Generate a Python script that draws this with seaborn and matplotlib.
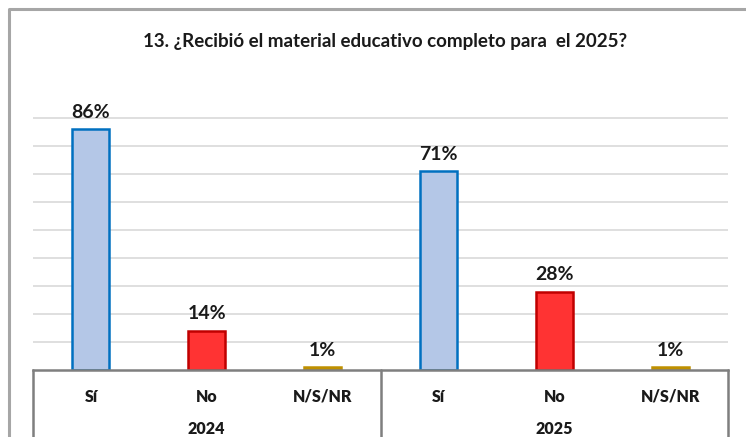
import pandas as pd
import matplotlib.pyplot as plt
import seaborn as sns
from matplotlib.lines import Line2D

# Data
years = ['2024', '2025']
answers = ['Sí', 'No', 'N/S/NR']
values_2024 = [86, 14, 1]
values_2025 = [71, 28, 1]

fill_colors = {'Sí': '#B4C7E7', 'No': '#FF3333', 'N/S/NR': '#BF9000'}
edge_colors = {'Sí': '#0070C0', 'No': '#C00000', 'N/S/NR': '#BF9000'}

rows = []
for year, vals in zip(years, [values_2024, values_2025]):
    for ans, v in zip(answers, vals):
        rows.append({'slot': year + ' ' + ans, 'year': year, 'answer': ans, 'value': v})
df = pd.DataFrame(rows)

sns.set_style('white')
plt.rcParams['font.family'] = ['Lato', 'DejaVu Sans']

W, H = 746, 437
fig = plt.figure(figsize=(W / 100, H / 100), dpi=100)
ax = fig.add_axes([33 / W, (H - 370) / H, (728 - 33) / W, (370 - 117) / H])

sns.barplot(data=df, x='slot', y='value', hue='answer', hue_order=answers,
            palette=fill_colors, width=0.32, dodge=False, legend=False, ax=ax,
            saturation=1)

for cont, ans in zip(ax.containers, answers):
    for patch in cont:
        patch.set_edgecolor(edge_colors[ans])
        patch.set_linewidth(1.8)

ax.set_ylim(0, 90.4)
ax.set_xlim(-0.5, len(df) - 0.5)
ax.set_yticks(range(10, 91, 10))
ax.yaxis.grid(True, color='#D9D9D9', linewidth=1.2)
ax.set_axisbelow(True)
ax.tick_params(left=False, bottom=False, labelleft=False, labelbottom=False)
ax.set_xlabel('')
ax.set_ylabel('')
for s in ['left', 'right', 'top']:
    ax.spines[s].set_visible(False)
ax.spines['bottom'].set_color('#7F7F7F')
ax.spines['bottom'].set_linewidth(1.8)

# value labels
for i, r in df.iterrows():
    ax.annotate(f"{r['value']}%", (i, r['value']), xytext=(0, 6), textcoords='offset points',
                ha='center', va='bottom', fontsize=14, fontweight='bold', color='#1A1A1A')

# category table below the axis
trans = ax.get_xaxis_transform()
for i, r in df.iterrows():
    ax.text(i, -0.105, r['answer'], transform=trans, ha='center', va='center',
            fontsize=11.5, fontweight='heavy', color='#1A1A1A', clip_on=False)
for j, year in enumerate(years):
    ax.text(j * 3 + 1, -0.235, year, transform=trans, ha='center', va='center',
            fontsize=11.5, fontweight='heavy', color='#1A1A1A', clip_on=False)
for xb in [-0.5, 2.5, 5.5]:
    ax.plot([xb, xb], [0, -0.4], transform=trans, color='#7F7F7F', linewidth=1.8,
            clip_on=False)

# title
fig.text(385 / W, (H - 42) / H, '13. ¿Recibió el material educativo completo para  el 2025?',
         ha='center', va='center', fontsize=13.5, fontweight='bold', color='#1A1A1A')

# chart frame
fig.add_artist(Line2D([9 / W, 9 / W, 1.01], [-0.01, (H - 9) / H, (H - 9) / H],
                      color='#A6A6A6', linewidth=2.2, solid_capstyle='butt'))

fig.savefig('out.png', dpi=100)
